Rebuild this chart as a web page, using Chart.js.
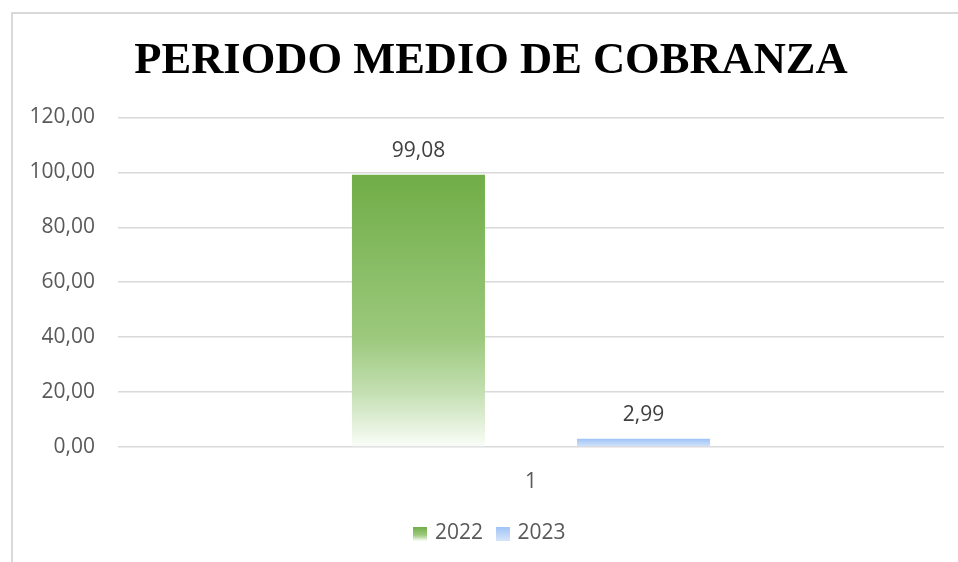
<!DOCTYPE html>
<html>
<head>
<meta charset="utf-8">
<script src="https://cdn.jsdelivr.net/npm/chart.js@4.4.0/dist/chart.umd.min.js"></script>
<style>
html, body { margin: 0; padding: 0; background: #fff; }
body { width: 958px; height: 562px; position: relative; overflow: hidden; }
.frame { position: absolute; left: 11px; top: 12px; width: 980px; height: 600px; border: 2px solid #d9d9d9; box-sizing: border-box; }
.wrap { position: absolute; left: 0; top: 0; width: 958px; height: 562px; }
</style>
</head>
<body>
<div class="frame"></div>
<div class="wrap"><canvas id="chart"></canvas></div>
<script>
var categories = ['1']
var seriesNames = ['2022', '2023']
var values2022 = [99.08]
var values2023 = [2.99]
var yTicks = [0, 20, 40, 60, 80, 100, 120]

var labelFont = "'Open Sans', sans-serif"

var gradStops = {
    green: [[0, '#70ad47'], [0.6, '#9cc97d'], [0.8, '#c4dfb2'], [1, '#fafdf8']],
    blue: [[0, '#9dc3f5'], [1, '#d6e5fb']]
}

function fmt(v) {
    return v.toFixed(2).replace('.', ',')
}

function barGradient(ctx, stops) {
    var chart = ctx.chart
    var area = chart.chartArea
    if (!area) return stops[0][1]
    var yScale = chart.scales.y
    var top = yScale.getPixelForValue(ctx.raw)
    var bottom = yScale.getPixelForValue(0)
    if (bottom - top < 1) bottom = top + 1
    var g = chart.ctx.createLinearGradient(0, top, 0, bottom)
    stops.forEach(function (s) { g.addColorStop(s[0], s[1]) })
    return g
}

function legendBox(stops) {
    var c = document.createElement('canvas')
    c.width = 14
    c.height = 14
    var x = c.getContext('2d')
    var g = x.createLinearGradient(0, 0, 0, 14)
    stops.forEach(function (s) { g.addColorStop(s[0], s[1]) })
    x.fillStyle = g
    x.fillRect(0, 0, 14, 14)
    return c
}

var boxes = [legendBox(gradStops.green), legendBox(gradStops.blue)]

var valueLabels = {
    id: 'valueLabels',
    afterDatasetsDraw: function (chart) {
        var ctx = chart.ctx
        ctx.save()
        ctx.font = "21px " + labelFont
        ctx.fillStyle = '#404040'
        ctx.textAlign = 'center'
        ctx.textBaseline = 'middle'
        chart.data.datasets.forEach(function (ds, i) {
            chart.getDatasetMeta(i).data.forEach(function (bar, j) {
                ctx.fillText(fmt(ds.data[j]), bar.x, bar.y - 24)
            })
        })
        ctx.restore()
    }
}

var ctx = document.getElementById('chart').getContext('2d')
var chart = new Chart(ctx, {
    type: 'bar',
    data: {
        labels: categories,
        datasets: [{
            label: seriesNames[0],
            data: values2022,
            backgroundColor: function (c) { return barGradient(c, gradStops.green) }
        }, {
            label: seriesNames[1],
            data: values2023,
            backgroundColor: function (c) { return barGradient(c, gradStops.blue) }
        }]
    },
    options: {
        responsive: true,
        maintainAspectRatio: false,
        animation: false,
        layout: { padding: { left: 24, right: 0, top: 0, bottom: 8 } },
        datasets: {
            bar: { categoryPercentage: 0.545, barPercentage: 0.591 }
        },
        scales: {
            x: {
                grid: { display: false },
                border: { display: false },
                ticks: { color: '#595959', font: { family: labelFont, size: 21 }, padding: 14 },
                afterFit: function (s) { s.height = 60 }
            },
            y: {
                min: 0,
                max: 120,
                afterBuildTicks: function (s) {
                    s.ticks = yTicks.map(function (v) { return { value: v } })
                },
                grid: { color: '#d9d9d9', lineWidth: 1.5, drawTicks: false },
                border: { display: false },
                ticks: {
                    color: '#595959',
                    font: { family: labelFont, size: 21 },
                    padding: 23,
                    callback: function (v) { return fmt(v) }
                },
                afterFit: function (s) { s.width = 94 }
            },
            // empty right-hand axis, only keeps the plot off the right edge
            yRight: {
                position: 'right',
                min: 0,
                max: 120,
                grid: { display: false },
                border: { display: false },
                ticks: { display: false },
                afterFit: function (s) { s.width = 14 }
            }
        },
        plugins: {
            title: {
                display: true,
                text: 'PERIODO MEDIO DE COBRANZA',
                color: '#000',
                font: { family: "'Liberation Serif', 'Times New Roman', serif", size: 44.5, weight: 'bold' },
                padding: { top: 35, bottom: 29 }
            },
            legend: {
                position: 'bottom',
                labels: {
                    color: '#595959',
                    font: { family: labelFont, size: 21 },
                    usePointStyle: true,
                    pointStyleWidth: 8,
                    boxWidth: 14,
                    boxHeight: 14,
                    padding: 16,
                    generateLabels: function (ch) {
                        var items = Chart.defaults.plugins.legend.labels.generateLabels(ch)
                        items.forEach(function (it, i) {
                            it.pointStyle = boxes[i]
                        })
                        return items
                    }
                }
            },
            tooltip: { enabled: false }
        }
    },
    plugins: [valueLabels]
})
</script>
</body>
</html>
